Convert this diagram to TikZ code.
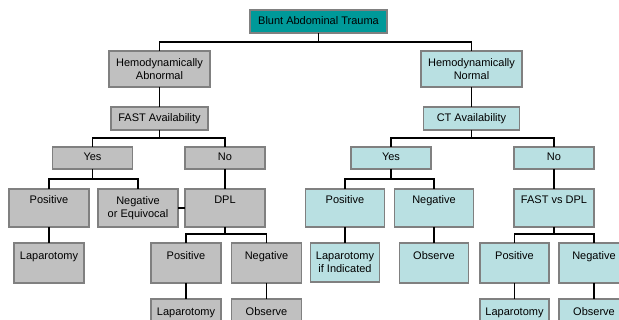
\documentclass[tikz,border=0pt]{standalone}
\usepackage{fontspec}
\setmainfont{Liberation Sans}
\usetikzlibrary{positioning}
\definecolor{traumateal}{HTML}{009999}
\definecolor{abngray}{HTML}{C0C0C0}
\definecolor{normblue}{HTML}{B9E0E2}
\definecolor{edgegray}{HTML}{808080}
\tikzset{
  box/.style={draw=edgegray, line width=1.5pt, inner xsep=2pt, inner ysep=3pt,
    outer sep=0pt, align=center, font=\fontsize{11pt}{13.3pt}\selectfont},
  abn/.style={box, fill=abngray},
  norm/.style={box, fill=normblue},
  oneline/.style={text height=8pt, text depth=2.5pt},
  toptext/.style 2 args={text height=#1, text depth=#2},
  link/.style={line width=1.8pt}
}

\begin{document}
\begin{tikzpicture}
    \useasboundingbox (0,0) rectangle (619pt,-320pt);
    \clip (0,0) rectangle (619pt,-320pt);
    \fill[white] (0,0) rectangle (619pt,-320pt);

      \node [box, fill=traumateal, oneline, minimum width=137pt, minimum height=23pt] (bat) at (318.5pt,-21.5pt) {Blunt Abdominal Trauma};
      \node [abn, minimum width=101pt, minimum height=36pt, below=18pt of bat, xshift=-159pt] (habn) {Hemodynamically\\Abnormal};
      \node [norm, minimum width=101pt, minimum height=36pt, below=18pt of bat, xshift=153pt] (hnorm) {Hemodynamically\\Normal};
      \node [abn, oneline, minimum width=97pt, minimum height=23pt, below=20pt of habn] (fast) {FAST Availability};
      \node [norm, oneline, minimum width=96pt, minimum height=23pt, below=20pt of hnorm] (ct) {CT Availability};

      \node [abn, oneline, minimum width=80pt, minimum height=22pt, below=17pt of fast, xshift=-67pt] (fyes) {Yes};
      \node [abn, oneline, minimum width=80pt, minimum height=22pt, below=17pt of fast, xshift=65.5pt] (fno) {No};
      \node [norm, oneline, minimum width=80pt, minimum height=22pt, below=17pt of ct, xshift=-80.5pt] (cyes) {Yes};
      \node [norm, oneline, minimum width=80pt, minimum height=22pt, below=17pt of ct, xshift=82.5pt] (cno) {No};

      \node [abn, toptext={11.7pt}{20.3pt}, minimum width=80pt, below=20pt of fyes, xshift=-43.5pt] (fpos) {Positive};
      \node [abn, minimum width=80pt, minimum height=38pt, below=20pt of fyes, xshift=45.5pt] (fneg) {Negative\\or Equivocal};
      \node [abn, toptext={11.7pt}{20.3pt}, minimum width=80pt, below=20pt of fno] (dpl) {DPL};
      \node [norm, toptext={11.7pt}{20.3pt}, minimum width=79pt, below=20pt of cyes, xshift=-46pt] (cpos) {Positive};
      \node [norm, toptext={11.7pt}{20.3pt}, minimum width=79pt, below=20pt of cyes, xshift=43pt] (cneg) {Negative};
      \node [norm, toptext={11.7pt}{20.3pt}, minimum width=80pt, below=20pt of cno] (fvd) {FAST vs DPL};

      \node [abn, toptext={14pt}{20pt}, minimum width=70pt, below=16pt of fpos] (flap) {Laparotomy};
      \node [abn, toptext={14pt}{20pt}, minimum width=70pt, below=16pt of dpl, xshift=-39pt] (dpos) {Positive};
      \node [abn, toptext={14pt}{20pt}, minimum width=70pt, below=16pt of dpl, xshift=41.5pt] (dneg) {Negative};
      \node [norm, minimum width=69pt, minimum height=39pt, below=16pt of cpos] (clap) {Laparotomy\\if Indicated};
      \node [norm, toptext={14pt}{20pt}, minimum width=69pt, below=16pt of cneg] (cobs) {Observe};
      \node [norm, toptext={14pt}{20pt}, minimum width=69pt, below=16pt of fvd, xshift=-39.5pt] (vpos) {Positive};
      \node [norm, toptext={14pt}{20pt}, minimum width=70pt, below=16pt of fvd, xshift=40pt] (vneg) {Negative};

      \node [abn, toptext={14pt}{10pt}, minimum width=70pt, below=16pt of dpos] (dlap) {Laparotomy};
      \node [abn, toptext={14pt}{10pt}, minimum width=70pt, below=16pt of dneg] (dobs) {Observe};
      \node [norm, toptext={14pt}{10pt}, minimum width=69pt, below=16pt of vpos] (vlap) {Laparotomy};
      \node [norm, toptext={14pt}{10pt}, minimum width=70pt, below=16pt of vneg] (vobs) {Observe};

      \draw [link] (bat.south) -- ++(0,-9pt) -| (habn.north);
      \draw [link] (bat.south) -- ++(0,-9pt) -| (hnorm.north);
      \draw [link] (habn) -- (fast);
      \draw [link] (hnorm) -- (ct);
      \draw [link] (fast.south) -- ++(0,-8pt) -| (fyes.north);
      \draw [link] (fast.south) -- ++(0,-8pt) -| (fno.north);
      \draw [link] (ct.south) -- ++(0,-8pt) -| (cyes.north);
      \draw [link] (ct.south) -- ++(0,-8pt) -| (cno.north);
      \draw [link] (fyes.south) -- ++(0,-10pt) -| (fpos.north);
      \draw [link] (fyes.south) -- ++(0,-10pt) -| (fneg.north);
      \draw [link] (fno) -- (dpl);
      \draw [link] (fneg) -- (dpl);
      \draw [link] (cyes.south) -- ++(0,-10pt) -| (cpos.north);
      \draw [link] (cyes.south) -- ++(0,-10pt) -| (cneg.north);
      \draw [link] (cno) -- (fvd);
      \draw [link] (fpos) -- (flap);
      \draw [link] (dpl.south) -- ++(0,-7pt) -| (dpos.north);
      \draw [link] (dpl.south) -- ++(0,-7pt) -| (dneg.north);
      \draw [link] (cpos) -- (clap);
      \draw [link] (cneg) -- (cobs);
      \draw [link] (fvd.south) -- ++(0,-7pt) -| (vpos.north);
      \draw [link] (fvd.south) -- ++(0,-7pt) -| (vneg.north);
      \draw [link] (dpos) -- (dlap);
      \draw [link] (dneg) -- (dobs);
      \draw [link] (vpos) -- (vlap);
      \draw [link] (vneg) -- (vobs);
  \end{tikzpicture}
\end{document}
